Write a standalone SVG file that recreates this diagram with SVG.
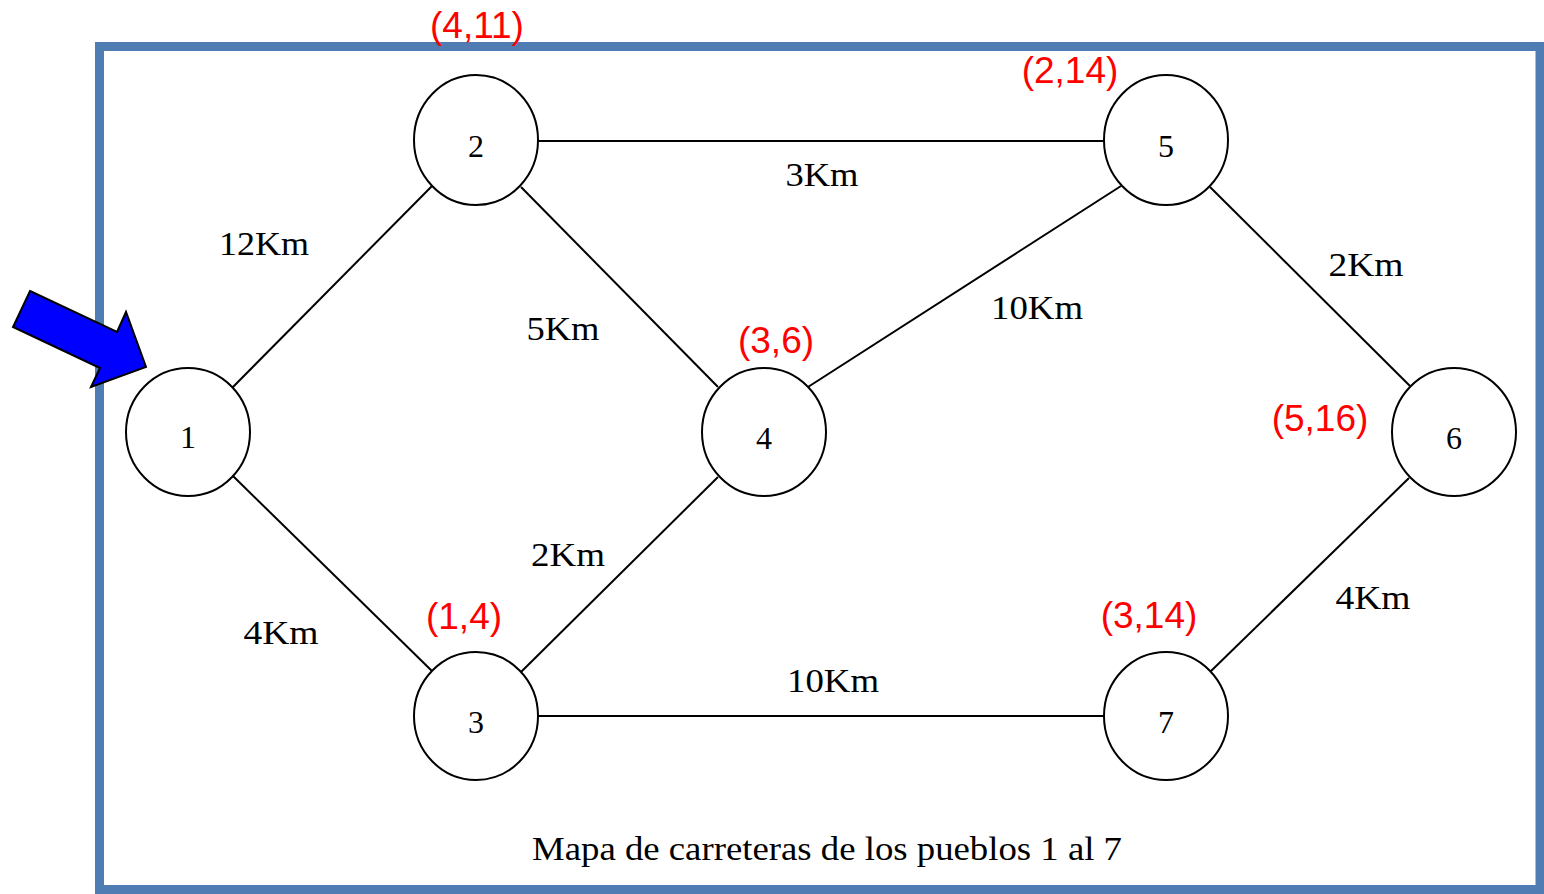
<svg xmlns="http://www.w3.org/2000/svg" width="1544" height="894" viewBox="0 0 1544 894">
<style>
.node ellipse{fill:#fff;stroke:#000;stroke-width:2}
.node text{font-family:"Liberation Serif",serif;font-size:32px;fill:#000;text-anchor:middle}
.lbl{font-family:"Liberation Serif",serif;font-size:33px;fill:#000;text-anchor:middle}
.red{font-family:"Liberation Sans",Arial,sans-serif;font-size:37px;fill:#ff0000;text-anchor:middle}
#edges line{stroke:#000;stroke-width:2}
</style>
<rect width="1544" height="894" fill="#fff"/>
<rect x="99.5" y="46.5" width="1440.5" height="843" fill="none" stroke="#4F7DB3" stroke-width="9"/>
<g id="edges">
<line x1="232" y1="388" x2="432" y2="186"/>
<line x1="233" y1="476" x2="433" y2="672"/>
<line x1="538" y1="141" x2="1104" y2="141"/>
<line x1="521" y1="187" x2="718" y2="387"/>
<line x1="808" y1="387" x2="1121" y2="186"/>
<line x1="1210" y1="187" x2="1410" y2="386"/>
<line x1="521" y1="672" x2="718" y2="477"/>
<line x1="538" y1="716" x2="1104" y2="716"/>
<line x1="1409" y1="478" x2="1210" y2="672"/>
</g>
<g id="edge-labels">
<text class="lbl" x="822" y="186" textLength="73" lengthAdjust="spacingAndGlyphs">3Km</text>
<text class="lbl" x="264" y="255" textLength="90" lengthAdjust="spacingAndGlyphs">12Km</text>
<text class="lbl" x="563" y="340" textLength="73" lengthAdjust="spacingAndGlyphs">5Km</text>
<text class="lbl" x="1037" y="319" textLength="92" lengthAdjust="spacingAndGlyphs">10Km</text>
<text class="lbl" x="1366" y="276" textLength="75" lengthAdjust="spacingAndGlyphs">2Km</text>
<text class="lbl" x="568" y="566" textLength="74" lengthAdjust="spacingAndGlyphs">2Km</text>
<text class="lbl" x="281" y="644" textLength="75" lengthAdjust="spacingAndGlyphs">4Km</text>
<text class="lbl" x="833" y="692" textLength="92" lengthAdjust="spacingAndGlyphs">10Km</text>
<text class="lbl" x="1373" y="609" textLength="75" lengthAdjust="spacingAndGlyphs">4Km</text>
</g>
<g id="node1" class="node"><ellipse cx="188" cy="432" rx="62" ry="64"/><text x="188" y="448">1</text></g>
<g id="node2" class="node"><ellipse cx="476" cy="140" rx="62" ry="65"/><text x="476" y="157">2</text></g>
<g id="node3" class="node"><ellipse cx="476" cy="716" rx="62" ry="64"/><text x="476" y="733">3</text></g>
<g id="node4" class="node"><ellipse cx="764" cy="432" rx="62" ry="64"/><text x="764" y="449">4</text></g>
<g id="node5" class="node"><ellipse cx="1166" cy="140" rx="62" ry="65"/><text x="1166" y="157">5</text></g>
<g id="node6" class="node"><ellipse cx="1454" cy="432" rx="62" ry="64"/><text x="1454" y="449">6</text></g>
<g id="node7" class="node"><ellipse cx="1166" cy="716" rx="62" ry="64"/><text x="1166" y="733">7</text></g>
<g id="red-labels">
<text class="red" x="477" y="38">(4,11)</text>
<text class="red" x="1070" y="83">(2,14)</text>
<text class="red" x="776" y="353">(3,6)</text>
<text class="red" x="1320" y="431">(5,16)</text>
<text class="red" x="464" y="629">(1,4)</text>
<text class="red" x="1149" y="628">(3,14)</text>
</g>
<text id="caption" class="lbl" x="827" y="860" textLength="590" lengthAdjust="spacingAndGlyphs">Mapa de carreteras de los pueblos 1 al 7</text>
<g id="arrow"><polygon points="30,291 117,332 126,312 146,367 91,387 100,368 13,327" fill="#0000FF" stroke="#000" stroke-width="2" stroke-linejoin="miter"/></g>
</svg>
